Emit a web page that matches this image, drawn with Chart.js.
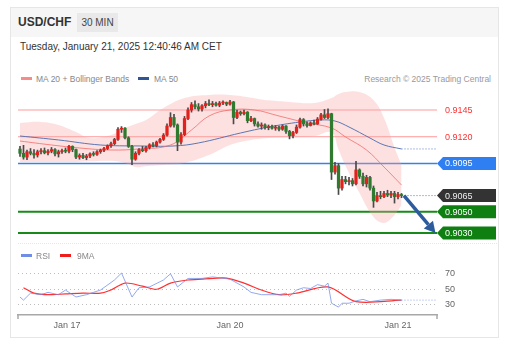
<!DOCTYPE html>
<html>
<head>
<meta charset="utf-8">
<script src="https://cdn.jsdelivr.net/npm/chart.js@4.4.1/dist/chart.umd.min.js"></script>
<style>
  html, body { margin: 0; padding: 0; background: #fff; }
  body { width: 511px; height: 354px; position: relative; overflow: hidden;
         font-family: Arial, "Liberation Sans", Helvetica, sans-serif; }
  .abs { position: absolute; white-space: nowrap; }
  .card { left: 10px; top: 7px; width: 489px; height: 331px; border: 1px solid #e6e6e6; box-sizing: border-box; }
  .head { left: 11px; top: 8px; width: 487px; height: 29px; background: #f6f6f6; }
  .title { left: 18px; top: 15px; font-size: 12px; line-height: 14px; font-weight: bold; color: #333; }
  .badge { left: 77px; top: 13px; width: 41px; height: 19px; background: #e9e9e9; color: #444;
           font-size: 10px; line-height: 19px; text-align: center; }
  .date { left: 20px; top: 41px; font-size: 10px; line-height: 12px; color: #333; }
  .leg { font-size: 8.5px; line-height: 10px; color: #888; }
  .sw { height: 3px; width: 11px; }
  .sep { left: 18px; top: 243px; width: 479px; border-top: 1px dotted #e6e6e6; }
  .wrap { left: 10px; width: 490px; }
</style>
</head>
<body>
<div class="abs card"></div>
<div class="abs head"></div>
<div class="abs title">USD/CHF</div>
<div class="abs badge">30 MIN</div>
<div class="abs date">Tuesday, January 21, 2025 12:40:46 AM CET</div>

<div class="abs sw" style="left:21px;top:77px;background:#f88a8a"></div>
<div class="abs leg" style="left:36px;top:73.5px">MA 20 + Bollinger Bands</div>
<div class="abs sw" style="left:138px;top:77px;background:#2f5597"></div>
<div class="abs leg" style="left:154px;top:73.5px">MA 50</div>
<div class="abs leg" style="right:20px;top:73.5px;color:#9a9a9a">Research © 2025 Trading Central</div>

<div class="abs wrap" style="top:85px;height:160px"><canvas id="price"></canvas></div>
<div class="abs sep"></div>

<div class="abs sw" style="left:21px;top:254px;background:#6f8fe6"></div>
<div class="abs leg" style="left:36px;top:250.5px">RSI</div>
<div class="abs sw" style="left:60px;top:254px;background:#f01c1c"></div>
<div class="abs leg" style="left:77px;top:250.5px">9MA</div>

<div class="abs wrap" style="top:262px;height:76px"><canvas id="rsi"></canvas></div>

<script>
// 30 min candles, Jan 16 evening -> Jan 21 00:30
const opens = [
  0.91085, 0.91045, 0.91010, 0.91060, 0.91045, 0.91030, 0.91060, 0.91070, 0.91050, 0.91065,
  0.91080, 0.91040, 0.91060, 0.91070, 0.91065, 0.91110, 0.91080, 0.91010, 0.91025, 0.91005,
  0.91020, 0.91040, 0.91035, 0.91060, 0.91075, 0.91090, 0.91115, 0.91135, 0.91175, 0.91270,
  0.91280, 0.91190, 0.91110, 0.90990, 0.91045, 0.91080, 0.91070, 0.91100, 0.91125, 0.91115,
  0.91150, 0.91175, 0.91215, 0.91300, 0.91380, 0.91310, 0.91150, 0.91220, 0.91370, 0.91450,
  0.91500, 0.91480, 0.91460, 0.91490, 0.91510, 0.91500, 0.91510, 0.91495, 0.91515, 0.91520,
  0.91505, 0.91525, 0.91380, 0.91430, 0.91415, 0.91430, 0.91350, 0.91370, 0.91320, 0.91300,
  0.91310, 0.91285, 0.91295, 0.91280, 0.91290, 0.91270, 0.91300, 0.91250, 0.91210, 0.91240,
  0.91290, 0.91360, 0.91320, 0.91305, 0.91330, 0.91320, 0.91365, 0.91405, 0.91380, 0.91415,
  0.90870, 0.90930, 0.90720, 0.90800, 0.90780, 0.90790, 0.90760, 0.90890, 0.90830, 0.90760,
  0.90820, 0.90720, 0.90600, 0.90650, 0.90640, 0.90670, 0.90655, 0.90670, 0.90640, 0.90660
];
const highs = [
  0.91110, 0.91120, 0.91075, 0.91090, 0.91080, 0.91075, 0.91090, 0.91095, 0.91080, 0.91100,
  0.91090, 0.91075, 0.91085, 0.91095, 0.91120, 0.91115, 0.91085, 0.91040, 0.91045, 0.91035,
  0.91050, 0.91060, 0.91070, 0.91085, 0.91100, 0.91125, 0.91150, 0.91185, 0.91285, 0.91295,
  0.91285, 0.91200, 0.91120, 0.91060, 0.91090, 0.91110, 0.91110, 0.91135, 0.91145, 0.91160,
  0.91185, 0.91230, 0.91320, 0.91425, 0.91410, 0.91320, 0.91240, 0.91390, 0.91470, 0.91520,
  0.91535, 0.91510, 0.91500, 0.91530, 0.91545, 0.91530, 0.91525, 0.91530, 0.91535, 0.91525,
  0.91540, 0.91530, 0.91450, 0.91440, 0.91450, 0.91435, 0.91390, 0.91375, 0.91340, 0.91330,
  0.91320, 0.91310, 0.91310, 0.91305, 0.91300, 0.91310, 0.91305, 0.91260, 0.91250, 0.91310,
  0.91375, 0.91370, 0.91340, 0.91340, 0.91355, 0.91380, 0.91420, 0.91455, 0.91460, 0.91420,
  0.90960, 0.90950, 0.90830, 0.90830, 0.90820, 0.90810, 0.90970, 0.90900, 0.90860, 0.90840,
  0.90830, 0.90740, 0.90680, 0.90690, 0.90690, 0.90700, 0.90690, 0.90690, 0.90680, 0.90670
];
const lows = [
  0.91015, 0.90990, 0.90985, 0.91030, 0.91000, 0.91010, 0.91040, 0.91040, 0.91030, 0.91050,
  0.91020, 0.91010, 0.91045, 0.91050, 0.91050, 0.91060, 0.90995, 0.90990, 0.90995, 0.90985,
  0.91005, 0.91020, 0.91025, 0.91045, 0.91060, 0.91080, 0.91100, 0.91125, 0.91165, 0.91240,
  0.91180, 0.91100, 0.90940, 0.90980, 0.91030, 0.91060, 0.91055, 0.91085, 0.91105, 0.91105,
  0.91140, 0.91165, 0.91205, 0.91290, 0.91290, 0.91070, 0.91130, 0.91210, 0.91360, 0.91430,
  0.91460, 0.91440, 0.91440, 0.91470, 0.91490, 0.91480, 0.91485, 0.91480, 0.91500, 0.91490,
  0.91495, 0.91320, 0.91370, 0.91400, 0.91405, 0.91330, 0.91340, 0.91300, 0.91290, 0.91270,
  0.91270, 0.91265, 0.91270, 0.91260, 0.91255, 0.91260, 0.91230, 0.91180, 0.91190, 0.91230,
  0.91280, 0.91300, 0.91290, 0.91300, 0.91310, 0.91315, 0.91355, 0.91370, 0.91370, 0.90800,
  0.90850, 0.90660, 0.90700, 0.90760, 0.90750, 0.90740, 0.90750, 0.90810, 0.90740, 0.90730,
  0.90700, 0.90540, 0.90590, 0.90620, 0.90630, 0.90640, 0.90630, 0.90580, 0.90620, 0.90630
];
const closes = [
  0.91045, 0.91010, 0.91060, 0.91045, 0.91030, 0.91060, 0.91070, 0.91050, 0.91065, 0.91080,
  0.91040, 0.91060, 0.91070, 0.91065, 0.91110, 0.91080, 0.91010, 0.91025, 0.91005, 0.91020,
  0.91040, 0.91035, 0.91060, 0.91075, 0.91090, 0.91115, 0.91135, 0.91175, 0.91270, 0.91280,
  0.91190, 0.91110, 0.90990, 0.91045, 0.91080, 0.91070, 0.91100, 0.91125, 0.91115, 0.91150,
  0.91175, 0.91215, 0.91300, 0.91380, 0.91310, 0.91150, 0.91220, 0.91370, 0.91450, 0.91500,
  0.91480, 0.91460, 0.91490, 0.91510, 0.91500, 0.91510, 0.91495, 0.91515, 0.91520, 0.91505,
  0.91525, 0.91380, 0.91430, 0.91415, 0.91430, 0.91350, 0.91370, 0.91320, 0.91300, 0.91310,
  0.91285, 0.91295, 0.91280, 0.91290, 0.91270, 0.91300, 0.91250, 0.91210, 0.91240, 0.91290,
  0.91360, 0.91320, 0.91305, 0.91330, 0.91320, 0.91365, 0.91405, 0.91380, 0.91415, 0.90870,
  0.90930, 0.90720, 0.90800, 0.90780, 0.90790, 0.90760, 0.90890, 0.90830, 0.90760, 0.90820,
  0.90720, 0.90600, 0.90650, 0.90640, 0.90670, 0.90655, 0.90670, 0.90640, 0.90660, 0.90650
];

// indicators (bar index -> value)
const bandIdx   = [0, 6, 11, 16, 20, 26, 30, 33, 36, 41, 47, 54, 60, 66, 71, 77, 84, 89, 91, 93, 97, 101, 104, 107, 109];
const bandUpper = [0.91329, 0.91338, 0.91310, 0.91244, 0.91188, 0.91216, 0.91282, 0.91320, 0.91357, 0.91469, 0.91562, 0.91590, 0.91590,
                   0.91565, 0.91540, 0.91525, 0.91515, 0.91562, 0.91600, 0.91618, 0.91618, 0.91543, 0.91375, 0.91100, 0.90936];
const bandLower = [0.90964, 0.90964, 0.90964, 0.90964, 0.90970, 0.90975, 0.90955, 0.90917, 0.90925, 0.90936, 0.90955, 0.91029, 0.91123,
                   0.91170, 0.91188, 0.91195, 0.91205, 0.91240, 0.91080, 0.90930, 0.90674, 0.90450, 0.90394, 0.90469, 0.90562];
const ma20Idx = [0, 9, 17, 26, 34, 43, 49, 54, 60, 67, 74, 82, 89, 93, 99, 104, 109];
const ma20Val = [0.91160, 0.91123, 0.91095, 0.91076, 0.91086, 0.91123, 0.91263, 0.91394, 0.91450, 0.91450, 0.91394, 0.91329, 0.91282,
                 0.91198, 0.91076, 0.90917, 0.90749];
const ma50Idx = [0, 11, 23, 34, 44, 51, 63, 71, 80, 86, 90, 94, 100, 104, 109];
const ma50Val = [0.91207, 0.91170, 0.91123, 0.91114, 0.91114, 0.91142, 0.91235, 0.91291, 0.91338, 0.91357, 0.91347, 0.91291, 0.91188,
                 0.91123, 0.91086];

const rsiIdx = [0, 1, 3, 6, 8, 11, 13, 16, 19, 21, 23, 27, 29, 32, 34, 37, 41, 43, 45, 48, 52, 55, 60, 64, 66, 69, 74, 76, 77, 79,
                81, 83, 85, 87, 88, 89, 91, 92, 94, 96, 98, 100, 103, 106, 109];
const rsiVal = [39, 35, 44, 42, 45, 42, 48, 39, 42, 45, 48, 61, 70, 39, 51, 52, 61, 69, 52, 63, 63, 65, 62, 52, 45, 42, 42, 44, 40, 48,
                51, 50, 55, 53, 57, 31, 26, 31, 31, 34, 36, 33, 35, 36, 35];
const rsiMaIdx = [1, 4, 8, 13, 18, 23, 26, 30, 35, 39, 43, 48, 52, 59, 64, 69, 74, 79, 88, 96, 109];
const rsiMaVal = [51, 44, 42, 43, 44, 44, 48, 57, 53, 49, 57, 61, 62, 63.5, 57, 48, 42, 44, 52, 33, 35];

// levels
const resistances = [0.9145, 0.9120];
const pivot = 0.9095;
const supports = [0.9050, 0.9030];
const target = 0.9030;
const rsiTicks = [30, 50, 70];
const dayTicks = [13.4, 60, 108];
const dayLabels = ['Jan 17', 'Jan 20', 'Jan 21'];

const X_MIN = -0.571, X_MAX = 119.14;
const UP = '#e3211c', DOWN = '#2f7a2f';
const FONT = 'Arial, "Liberation Sans", Helvetica, sans-serif';

Chart.defaults.font.family = FONT;

const pts = (xs, ys) => xs.map((x, k) => ({ x: x, y: ys[k] }));
const lastIdx = closes.length - 1;
const lastClose = closes[lastIdx];

const bodyData = closes.map((c, i) => ({ x: i, y: [opens[i], c] }));
const wickData = closes.map((c, i) => ({ x: i, y: [lows[i], highs[i]] }));
const bodyColors = closes.map((c, i) => c >= opens[i] ? UP : DOWN);

function hline(ctx, x1, x2, y, color, w, dash) {
    ctx.beginPath();
    ctx.strokeStyle = color;
    ctx.lineWidth = w;
    ctx.setLineDash(dash || []);
    ctx.moveTo(x1, y);
    ctx.lineTo(x2, y);
    ctx.stroke();
    ctx.setLineDash([]);
}

function tagBox(ctx, x, y, color, text, textColor) {
    ctx.beginPath();
    ctx.moveTo(x, y);
    ctx.lineTo(x + 6, y - 6.5);
    ctx.lineTo(x + 59, y - 6.5);
    ctx.lineTo(x + 59, y + 6.5);
    ctx.lineTo(x + 6, y + 6.5);
    ctx.closePath();
    ctx.fillStyle = color;
    ctx.fill();
    ctx.fillStyle = textColor;
    ctx.fillText(text, x + 8, y + 0.5);
}

const levelsPlugin = {
    id: 'levels',
    beforeDatasetsDraw(chart) {
        const { ctx, chartArea: a, scales: { y } } = chart;
        ctx.save();
        resistances.forEach(v => hline(ctx, a.left, a.right, y.getPixelForValue(v), 'rgba(255,120,120,0.75)', 1));
        hline(ctx, a.left, a.right, y.getPixelForValue(pivot), '#3c7fe6', 1.5);
        supports.forEach(v => hline(ctx, a.left, a.right, y.getPixelForValue(v), '#198a19', 2));
        ctx.restore();
    },
    afterDatasetsDraw(chart) {
        const { ctx, chartArea: a, scales: { x, y } } = chart;
        ctx.save();
        // dotted continuations
        hline(ctx, x.getPixelForValue(lastIdx) + 3, a.right, y.getPixelForValue(lastClose), '#777', 1, [1, 2]);
        hline(ctx, x.getPixelForValue(ma50Idx[ma50Idx.length - 1]), a.right,
              y.getPixelForValue(ma50Val[ma50Val.length - 1]), '#5a7cc0', 1, [1, 2]);

        // arrow to target
        const x1 = x.getPixelForValue(lastIdx + 0.7), y1 = y.getPixelForValue(lastClose);
        const x2 = x.getPixelForValue(118.7), y2 = y.getPixelForValue(target);
        const ang = Math.atan2(y2 - y1, x2 - x1);
        const hl = 11, hw = 6;
        const bx = x2 - hl * Math.cos(ang), by = y2 - hl * Math.sin(ang);
        ctx.strokeStyle = '#2d5c9e';
        ctx.lineWidth = 3.5;
        ctx.beginPath();
        ctx.moveTo(x1, y1);
        ctx.lineTo(bx, by);
        ctx.stroke();
        ctx.beginPath();
        ctx.moveTo(x2, y2);
        ctx.lineTo(bx + hw * Math.sin(ang), by - hw * Math.cos(ang));
        ctx.lineTo(bx - hw * Math.sin(ang), by + hw * Math.cos(ang));
        ctx.closePath();
        ctx.fillStyle = '#2d5c9e';
        ctx.fill();

        // price labels
        ctx.font = '9px ' + FONT;
        ctx.textBaseline = 'middle';
        ctx.textAlign = 'left';
        resistances.forEach(v => {
            ctx.fillStyle = '#ff3030';
            ctx.fillText(v.toFixed(4), a.right + 8, y.getPixelForValue(v) + 0.5);
        });
        tagBox(ctx, a.right, y.getPixelForValue(pivot), '#2f7ff2', pivot.toFixed(4), '#fff');
        tagBox(ctx, a.right, y.getPixelForValue(lastClose), '#333', lastClose.toFixed(4), '#eee');
        supports.forEach(v => tagBox(ctx, a.right, y.getPixelForValue(v), '#0f7f12', v.toFixed(4), '#fff'));
        ctx.restore();
    }
};

new Chart(document.getElementById('price'), {
    type: 'bar',
    data: {
        datasets: [
            { type: 'line', data: pts(bandIdx, bandUpper), fill: '+1', backgroundColor: 'rgba(250,165,165,0.33)',
              borderWidth: 0, pointRadius: 0, tension: 0.4, order: 6 },
            { type: 'line', data: pts(bandIdx, bandLower), fill: false, borderWidth: 0, pointRadius: 0, tension: 0.4, order: 6 },
            { type: 'line', data: pts(ma20Idx, ma20Val), borderColor: 'rgba(242,100,100,0.75)', borderWidth: 1,
              pointRadius: 0, tension: 0.4, order: 4 },
            { type: 'line', data: pts(ma50Idx, ma50Val), borderColor: 'rgba(65,100,170,0.85)', borderWidth: 1,
              pointRadius: 0, tension: 0.4, order: 4 },
            { type: 'bar', data: wickData, backgroundColor: '#4a4a4a', barThickness: 1, grouped: false, order: 2 },
            { type: 'bar', data: bodyData, backgroundColor: bodyColors, barThickness: 2.6, grouped: false,
              minBarLength: 1, order: 1 }
        ]
    },
    options: {
        responsive: true,
        maintainAspectRatio: false,
        animation: false,
        layout: { padding: { left: 8, right: 63, top: 0, bottom: 0 } },
        plugins: { legend: { display: false }, tooltip: { enabled: false } },
        scales: {
            x: { type: 'linear', min: X_MIN, max: X_MAX, offset: false, display: false },
            y: { min: 0.901883, max: 0.916836, display: false }
        }
    },
    plugins: [levelsPlugin]
});

const rsiPlugin = {
    id: 'rsiExtras',
    beforeDatasetsDraw(chart) {
        const { ctx, chartArea: a, scales: { y } } = chart;
        ctx.save();
        ctx.font = '9px ' + FONT;
        ctx.textBaseline = 'middle';
        ctx.textAlign = 'left';
        rsiTicks.forEach(v => {
            const py = Math.round(y.getPixelForValue(v)) + 0.5;
            hline(ctx, a.left, a.right, py, '#bdbdbd', 1, [1, 3]);
            ctx.fillStyle = '#666';
            ctx.fillText(String(v), a.right + 8, py);
        });
        ctx.restore();
    },
    afterDatasetsDraw(chart) {
        const { ctx, chartArea: a, scales: { x, y } } = chart;
        ctx.save();
        hline(ctx, x.getPixelForValue(rsiIdx[rsiIdx.length - 1]), a.right,
              y.getPixelForValue(rsiVal[rsiVal.length - 1]), 'rgba(110,140,235,0.8)', 1, [1, 2]);
        // end ticks of the time axis
        ctx.strokeStyle = '#a8a8a8';
        ctx.lineWidth = 1.5;
        [a.left, a.right].forEach(px => {
            ctx.beginPath();
            ctx.moveTo(px, a.bottom);
            ctx.lineTo(px, a.bottom + 4);
            ctx.stroke();
        });
        ctx.restore();
    }
};

new Chart(document.getElementById('rsi'), {
    type: 'line',
    data: {
        datasets: [
            { data: pts(rsiIdx, rsiVal), borderColor: 'rgba(110,140,235,0.75)', borderWidth: 1, pointRadius: 0, tension: 0 },
            { data: pts(rsiMaIdx, rsiMaVal), borderColor: '#ff3030', borderWidth: 1.2, pointRadius: 0, tension: 0.3 }
        ]
    },
    options: {
        responsive: true,
        maintainAspectRatio: false,
        animation: false,
        layout: { padding: { left: 8, right: 63, top: 0, bottom: 0 } },
        plugins: { legend: { display: false }, tooltip: { enabled: false } },
        scales: {
            x: {
                type: 'linear', min: X_MIN, max: X_MAX, offset: false,
                grid: { display: false, drawTicks: false },
                border: { display: true, color: '#a8a8a8', width: 1.5 },
                afterBuildTicks: s => { s.ticks = dayTicks.map(v => ({ value: v })); },
                afterFit: s => { s.height = 23; },
                ticks: { autoSkip: false, maxRotation: 0, padding: 5, color: '#666', font: { size: 9 },
                         callback: (v, i) => dayLabels[i] }
            },
            y: { min: 15.8, max: 84.2, display: false }
        }
    },
    plugins: [rsiPlugin]
});
</script>
</body>
</html>
